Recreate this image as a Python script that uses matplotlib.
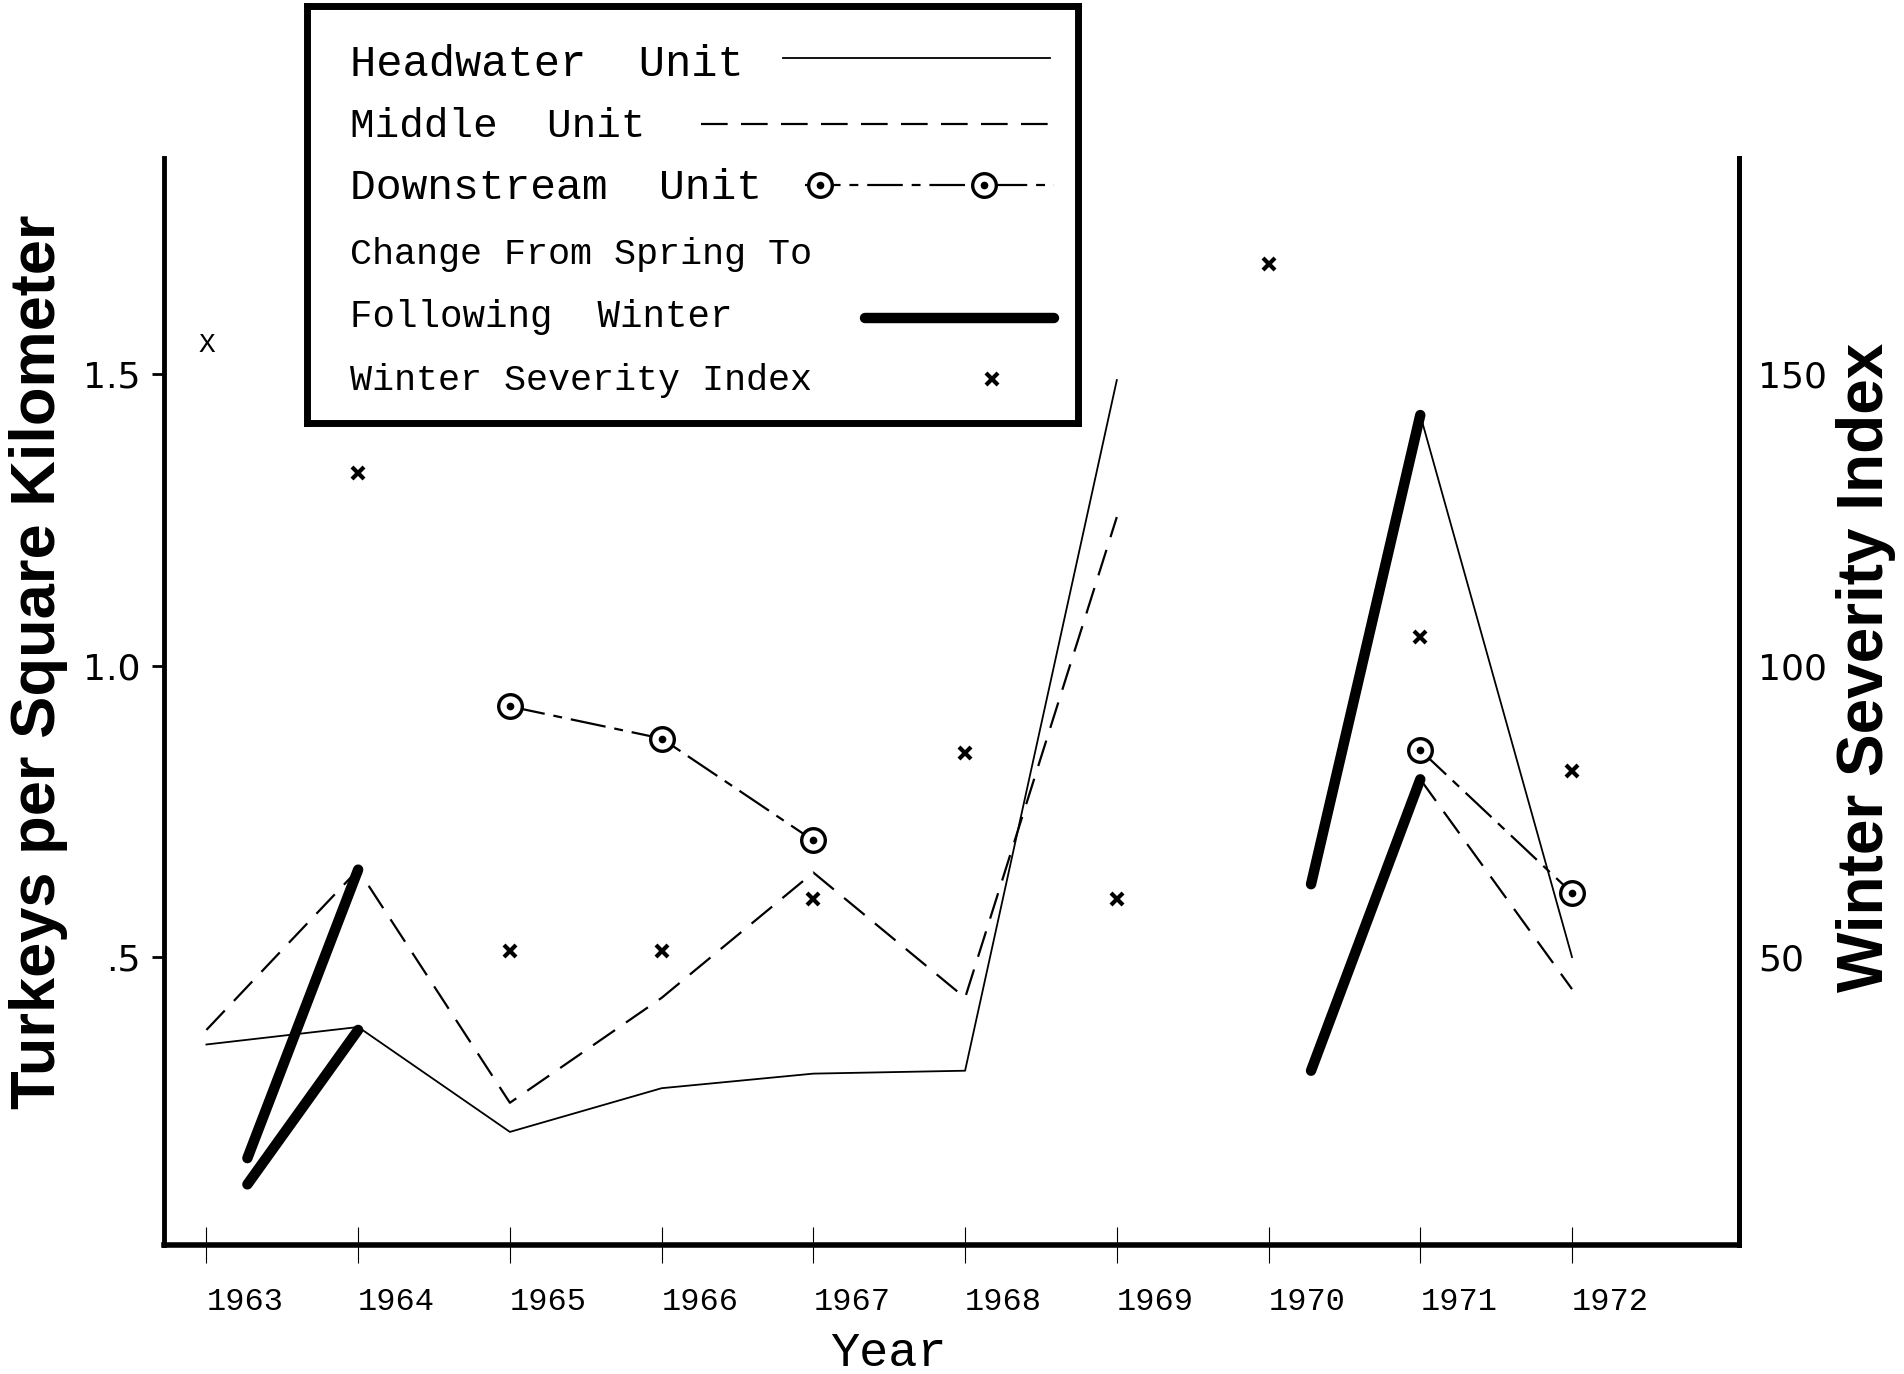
import numpy as np
import matplotlib.pyplot as plt

# data
years = [1963, 1964, 1965, 1966, 1967, 1968, 1969, 1970, 1971, 1972]
headwater = [0.35, 0.38, 0.20, 0.275, 0.30, 0.305, 1.49, np.nan, 1.43, 0.50]
middle = [0.375, 0.65, 0.25, 0.43, 0.645, 0.43, 1.255, np.nan, 0.805, 0.445]
downstream = [np.nan, np.nan, 0.93, 0.875, 0.70, np.nan, np.nan, np.nan, 0.855, 0.61]
severity = [155, 133, 51, 51, 60, 85, 60, 169, 105, 82]

# change from spring to following winter (thick segments)
spring_x = [1963.27, 1963.27, 1970.28, 1970.28]
spring_y = [0.11, 0.155, 0.305, 0.625]
winter_x = [1964, 1964, 1971, 1971]
winter_y = [0.375, 0.65, 0.805, 1.43]

left_ticks = [0.5, 1.0, 1.5]
left_labels = ['.5', '1.0', '1.5']
right_ticks = [50, 100, 150]

legend_rows = ['Headwater  Unit', 'Middle  Unit', 'Downstream  Unit',
               'Change From Spring To', 'Following  Winter', 'Winter Severity Index']

mono = 'Liberation Mono'
sans = 'Liberation Sans'

fig = plt.figure(figsize=(19.04, 13.74), dpi=100)
ax = fig.add_axes([0.0861, 0.0939, 0.8272, 0.7911])
ax.set_xlim(1962.72, 1973.10)
ax.set_ylim(0.006, 1.871)

ax.spines['top'].set_visible(False)
ax.spines['left'].set_linewidth(3.5)
ax.spines['right'].set_linewidth(3.5)
ax.spines['bottom'].set_linewidth(4)

# lines
dash_dot = (16, 4, 4, 4)
ax.plot(years, headwater, color='black', lw=1.3)
ax.plot(years, middle, color='black', lw=1.6, dashes=(12, 6))
ax.plot(years, downstream, color='black', lw=1.6, dashes=dash_dot,
        marker='o', ms=17, mfc='white', mec='black', mew=2.4)
ax.plot(years, downstream, ls='none', marker='o', ms=4.5, color='black')
for x0, y0, x1, y1 in zip(spring_x, spring_y, winter_x, winter_y):
    ax.plot([x0, x1], [y0, y1], color='black', lw=7.5, solid_capstyle='round')

# axes ticks
ax.set_yticks(left_ticks)
ax.set_yticklabels(left_labels, fontsize=26, family='DejaVu Sans')
ax.tick_params(axis='y', direction='out', length=9, width=2, pad=8)
ax.set_xticks(years)
ax.set_xticklabels([str(y) for y in years], fontsize=23, family=mono, ha='left')
ax.tick_params(axis='x', direction='inout', length=26, width=0.8, pad=17)

ax.set_ylabel('Turkeys per Square Kilometer', fontsize=45.5, family=sans,
              fontweight='bold')
ax.yaxis.set_label_coords(-0.061, 0.537)
ax.set_xlabel('Year', fontsize=35, family=mono, va='top')
ax.xaxis.set_label_coords(0.46, -0.079)

# winter severity on right axis
ax2 = ax.twinx()
ax2.set_ylim(0.6, 187.1)
ax2.set_yticks(right_ticks)
ax2.set_yticklabels([str(t) for t in right_ticks], fontsize=26, family='DejaVu Sans')
ax2.tick_params(axis='y', length=0, pad=14)
for s in ['top', 'left', 'bottom']:
    ax2.spines[s].set_visible(False)
ax2.spines['right'].set_linewidth(3.5)
ax2.plot(years[1:], severity[1:], ls='none', marker='x', ms=9, mew=3, color='black')
ax2.text(years[0], severity[0], 'X', family=mono, fontsize=20,
         ha='center', va='center')
ax2.set_ylabel('Winter Severity Index', fontsize=46, family=sans,
               fontweight='bold', rotation=90)
ax2.yaxis.set_label_coords(1.0616, 0.531)

# legend box drawn by hand
lax = fig.add_axes([307 / 1904, 1 - 423 / 1374, 771 / 1904, 417 / 1374])
lax.set_xlim(307, 1078)
lax.set_ylim(423, 6)
lax.set_xticks([])
lax.set_yticks([])
for s in lax.spines.values():
    s.set_linewidth(5)
row_y = [64, 126, 188, 254, 317, 380]
row_size = [31.5, 29.5, 31, 26.5, 27, 26.5]
for txt, yy, fs in zip(legend_rows, row_y, row_size):
    lax.text(350, yy, txt, family=mono, fontsize=fs, va='center', ha='left')
lax.plot([783, 1050], [58, 58], color='black', lw=1.3)
lax.plot([701, 1054], [124, 124], color='black', lw=1.6, dashes=(12, 6))
lax.plot([805, 1054], [185, 185], color='black', lw=1.6, dashes=dash_dot)
lax.plot([820, 984], [185, 185], ls='none', marker='o', ms=17, mfc='white',
         mec='black', mew=2.4)
lax.plot([820, 984], [185, 185], ls='none', marker='o', ms=4.5, color='black')
lax.plot([865, 1054], [318, 318], color='black', lw=7.5, solid_capstyle='round')
lax.plot([992], [379], ls='none', marker='x', ms=9, mew=3, color='black')

fig.savefig('out.png', dpi=100)
